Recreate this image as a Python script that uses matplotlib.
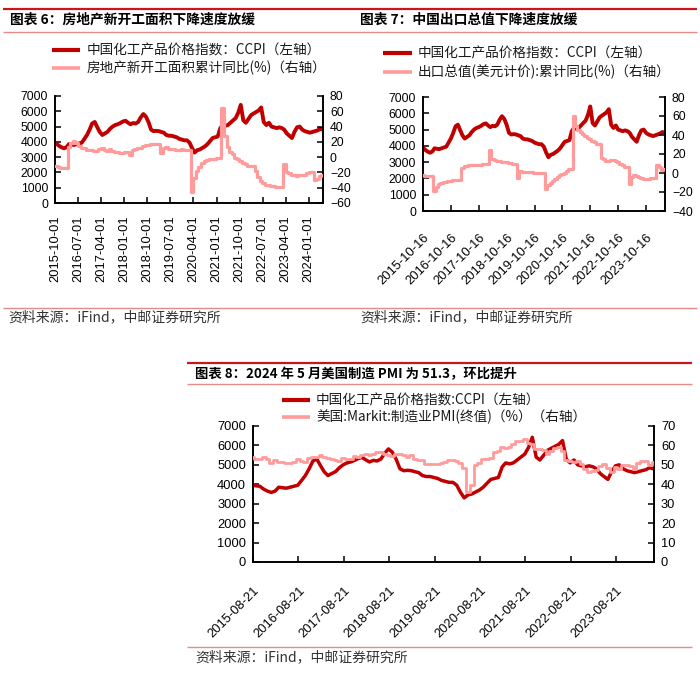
import matplotlib
matplotlib.use('Agg')
import matplotlib.pyplot as plt
from matplotlib.lines import Line2D
import pandas as pd

# ---------------- data ----------------
# CCPI (中国化工产品价格指数), monthly readings, 2015-08 .. 2024-06
ccpi_first_month = '2015-08'
ccpi = [
    3950, 3920, 3900, 3750, 3650,
    3580, 3650, 3850, 3820, 3800, 3850, 3900, 3950, 4200, 4450, 4800, 5200,
    5300, 4950, 4650, 4450, 4550, 4650, 4850, 5000, 5100, 5150, 5230, 5330,
    5380, 5250, 5150, 5230, 5200, 5300, 5600, 5820, 5650, 5300, 4800, 4700,
    4720, 4700, 4650, 4600, 4450, 4400, 4400, 4350, 4300, 4200, 4150, 4100,
    4100, 3950, 3600, 3300, 3450, 3500, 3600, 3700, 3850, 4050, 4250, 4300,
    4350, 4900, 5100, 5050, 5100, 5250, 5400, 5550, 5900, 6420, 5400, 5250,
    5500, 5750, 5850, 5950, 6050, 6250, 5300, 5100, 5250, 5000, 4950, 4900,
    4950, 4900, 4800, 4550, 4400, 4250, 4650, 4950, 5000, 4800, 4700, 4650,
    4600, 4650, 4700, 4750, 4850, 4800,
]

# 房地产新开工面积累计同比(%), monthly from 2015-09, January not published (Jan-Feb combined)
realestate_first_month = '2015-09'
realestate = [
    -12, -13, -14, -14,
    13, 19, 21, 19, 15, 12, 12, 9, 9, 9, 8,
    10, 12, 9, 8, 10, 8, 7, 7, 6, 6, 7,
    3, 9, 10, 12, 12, 14, 16, 16, 17, 17, 17,
    6, 12, 13, 11, 10, 10, 9, 9, 10, 9, 9,
    -45, -27, -18, -13, -8, -5, -4, -3, -3, -2, -1,
    64, 28, 13, 7, 4, -1, -3, -5, -8, -9, -11,
    -12, -18, -26, -31, -34, -36, -37, -38, -38, -39, -39,
    -9, -19, -21, -23, -24, -25, -24, -23, -23, -21, -20,
    -30, -28, -25, -24,
]

# 出口总值(美元计价):累计同比(%), monthly from 2015-09, no January prints
exports_first_month = '2015-09'
exports = [
    -2, -3, -3, -3,
    -19, -15, -12, -10, -9, -9, -8, -8, -7, -7, -7,
    5, 7, 7, 8, 8, 8, 8, 8, 8, 9, 9,
    24, 15, 14, 13, 13, 12, 12, 12, 11, 11, 10,
    -5, 2, 1, 1, 1, 1, 1, 0, 0, 0, 0,
    -17, -13, -10, -8, -6, -4, -2, -1, 0, 2, 4,
    60, 49, 45, 43, 41, 39, 37, 36, 34, 33, 31,
    16, 15, 13, 13, 14, 14, 13, 12, 10, 8, 6,
    -12, -4, -2, -3, -4, -5, -6, -6, -6, -5, -5,
    8, 6, 3, 4,
]

# 美国:Markit:制造业PMI(终值), monthly 2015-07 .. 2024-05
pmi_first_month = '2015-07'
pmi = [
    53.8, 53.0, 53.1, 54.1, 52.8, 51.2,
    52.4, 51.3, 51.5, 50.8, 50.7, 51.3, 52.9, 52.0, 51.5, 53.4, 54.1, 54.3,
    55.0, 54.2, 53.3, 52.8, 52.7, 52.0, 53.3, 52.8, 53.1, 54.6, 53.9, 55.1,
    55.5, 55.3, 55.6, 56.5, 56.4, 55.4, 55.3, 54.7, 55.6, 55.7, 55.3, 53.8,
    54.9, 53.0, 52.4, 52.6, 50.5, 50.6, 50.4, 50.3, 51.1, 51.3, 52.6, 52.4,
    51.9, 50.7, 48.5, 36.1, 39.8, 49.8, 50.9, 53.1, 53.2, 53.4, 56.7, 57.1,
    59.2, 58.6, 59.1, 60.5, 62.1, 62.1, 63.4, 61.1, 60.7, 58.4, 58.3, 57.7,
    55.5, 57.3, 58.8, 59.2, 57.0, 52.7, 52.2, 51.5, 52.0, 50.4, 47.7, 46.2,
    46.9, 47.3, 49.2, 50.2, 48.4, 46.3, 49.0, 47.9, 49.8, 50.0, 49.4, 47.9,
    50.7, 52.2, 51.9, 50.0, 51.3,
]

ticks1 = ['2015-10-01', '2016-07-01', '2017-04-01', '2018-01-01', '2018-10-01', '2019-07-01',
          '2020-04-01', '2021-01-01', '2021-10-01', '2022-07-01', '2023-04-01', '2024-01-01']
ticks2 = ['2015-10-16', '2016-10-16', '2017-10-16', '2018-10-16', '2019-10-16',
          '2020-10-16', '2021-10-16', '2022-10-16', '2023-10-16']
ticks3 = ['2015-08-21', '2016-08-21', '2017-08-21', '2018-08-21', '2019-08-21',
          '2020-08-21', '2021-08-21', '2022-08-21', '2023-08-21']

title1 = '图表 6：房地产新开工面积下降速度放缓'
title2 = '图表 7：中国出口总值下降速度放缓'
title3 = '图表 8：2024 年 5 月美国制造 PMI 为 51.3，环比提升'
leg_ccpi = '中国化工产品价格指数：CCPI（左轴）'
leg_ccpi3 = '中国化工产品价格指数:CCPI（左轴）'
leg1 = '房地产新开工面积累计同比(%)（右轴）'
leg2 = '出口总值(美元计价):累计同比(%)（右轴）'
leg3 = '美国:Markit:制造业PMI(终值)（%）（右轴）'
source = '资料来源：iFind，中邮证券研究所'

# ---------------- style ----------------
DARK = '#C00000'
PINK = '#FF9B9B'
RULE_RED = '#C8161D'
RULE_PINK = '#E58A8A'
CJK = ['Noto Sans CJK SC', 'DejaVu Sans']
plt.rcParams['font.family'] = ['Liberation Sans', 'Noto Sans CJK SC', 'DejaVu Sans']

W, H = 700, 674
fig = plt.figure(figsize=(7, 6.74), dpi=100)


def fx(x):
    return x / W


def fy(y):
    return 1 - y / H


def fig_line(x1, x2, y, color, lw):
    fig.add_artist(Line2D([fx(x1), fx(x2)], [fy(y), fy(y)], color=color, lw=lw,
                          transform=fig.transFigure, solid_capstyle='butt'))


def legend_row(x1, x2, y, color, lw, text, tx, fs):
    fig.add_artist(Line2D([fx(x1), fx(x2)], [fy(y), fy(y)], color=color, lw=lw,
                          transform=fig.transFigure, solid_capstyle='butt'))
    fig.text(fx(tx), fy(y), text, fontsize=fs, va='center', ha='left',
             family=CJK, color='#1a1a1a')


def month_dates(first, n, skip_jan=False, day=None):
    rng = pd.date_range(first + '-01', periods=n + 20, freq='MS')
    if skip_jan:
        rng = [d for d in rng if d.month != 1]
    rng = list(rng)[:n]
    if day is None:
        return [d + pd.offsets.MonthEnd(0) for d in rng]
    return [d + pd.Timedelta(days=day - 1) for d in rng]


ccpi_dates = month_dates(ccpi_first_month, len(ccpi), day=15)


def chart(l, t, r, b, xlim, ticks, rot, rlim, rstep, pdates, pvals,
          fs_y, fs_x, lw_dark, lw_pink, xpad):
    ax = fig.add_axes([fx(l), fy(b), (r - l) / W, (b - t) / H])
    ax2 = ax.twinx()
    ax.plot(ccpi_dates, ccpi, color=DARK, lw=lw_dark, solid_joinstyle='round', zorder=2)
    x0, x1 = pd.Timestamp(xlim[0]), pd.Timestamp(xlim[1])
    ax2.step(list(pdates) + [x1], list(pvals) + [pvals[-1]], where='post',
             color=PINK, lw=lw_pink, zorder=3)
    ax.set_xlim(x0, x1)
    ax.set_ylim(0, 7000)
    ax.set_yticks(range(0, 7001, 1000))
    ax2.set_ylim(*rlim)
    ax2.set_yticks(range(rlim[0], rlim[1] + 1, rstep))
    tk = [pd.Timestamp(s) for s in ticks]
    ax.set_xticks(tk)
    ax.set_xticklabels(ticks)
    for a in (ax, ax2):
        a.spines['top'].set_visible(False)
        for s in ('left', 'right', 'bottom'):
            a.spines[s].set_linewidth(1.2)
            a.spines[s].set_color('black')
        a.patch.set_visible(False)
    ax.tick_params(axis='y', direction='in', length=4, width=1.1, pad=5, labelsize=fs_y)
    ax2.tick_params(axis='y', direction='in', length=4, width=1.1, pad=5, labelsize=fs_y)
    ax.tick_params(axis='x', direction='in', length=4, width=1.1, pad=xpad, labelsize=fs_x)
    if rot == 90:
        for lab in ax.get_xticklabels():
            lab.set_rotation(90)
            lab.set_ha('center')
            lab.set_va('top')
    else:
        for lab in ax.get_xticklabels():
            lab.set_rotation(45)
            lab.set_ha('right')
            lab.set_va('top')
            lab.set_rotation_mode('anchor')
    return ax, ax2


# ---- chart 1 ----
re_dates = month_dates(realestate_first_month, len(realestate), skip_jan=True)
chart(55, 96, 323, 203, ('2015-10-01', '2024-06-18'), ticks1, 90, (-60, 80), 20,
      re_dates, realestate, 8.8, 9.3, 2.8, 2.3, 9)

# ---- chart 2 ----
ex_dates = month_dates(exports_first_month, len(exports), skip_jan=True)
chart(423, 97, 665, 211, ('2015-10-16', '2024-06-20'), ticks2, 45, (-40, 80), 20,
      ex_dates, exports, 8.8, 9.3, 2.8, 2.3, 15)

# ---- chart 3 ----
pmi_dates = month_dates(pmi_first_month, len(pmi))
chart(253, 426, 654, 562, ('2015-08-21', '2024-06-20'), ticks3, 45, (0, 70), 10,
      pmi_dates, pmi, 9.3, 9.3, 2.5, 2.0, 16)

# ---- rules, titles, legends, sources ----
fig_line(3, 697, 9, RULE_RED, 1.6)
fig_line(3, 697, 32, RULE_PINK, 1.0)
fig_line(3, 697, 308, RULE_PINK, 1.0)
fig_line(187, 692, 363, RULE_RED, 1.6)
fig_line(187, 692, 384, RULE_PINK, 1.0)
fig_line(187, 692, 647, RULE_PINK, 1.0)

fig.text(fx(10), fy(20), title1, fontsize=9.9, fontweight='bold', va='center', family=CJK)
fig.text(fx(360), fy(20), title2, fontsize=9.9, fontweight='bold', va='center', family=CJK)
fig.text(fx(195), fy(374), title3, fontsize=9.6, fontweight='bold', va='center', family=CJK)

legend_row(52, 80, 50, DARK, 3.0, leg_ccpi, 87, 9.8)
legend_row(52, 80, 68, PINK, 2.6, leg1, 87, 9.8)
legend_row(383, 412, 53, DARK, 3.0, leg_ccpi, 418, 9.8)
legend_row(383, 412, 72, PINK, 2.6, leg2, 418, 9.8)
legend_row(282, 310, 400, DARK, 3.0, leg_ccpi3, 316, 9.8)
legend_row(282, 310, 417, PINK, 2.6, leg3, 316, 9.8)

fig.text(fx(8), fy(317), source, fontsize=10, va='center', family=CJK, color='#333333')
fig.text(fx(360), fy(317), source, fontsize=10, va='center', family=CJK, color='#333333')
fig.text(fx(195), fy(657), source, fontsize=10, va='center', family=CJK, color='#333333')

fig.savefig('out.png', dpi=100)
